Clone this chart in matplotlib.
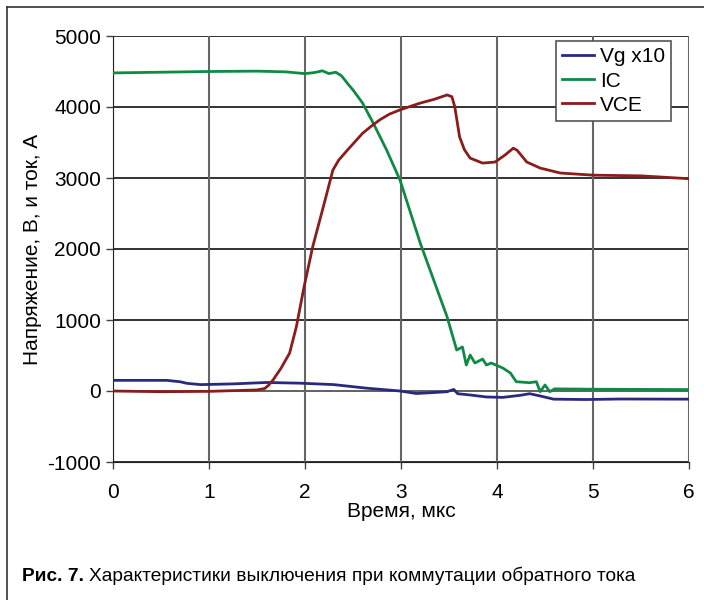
import matplotlib.pyplot as plt
from matplotlib.lines import Line2D

# --- data ---
vg_t = [0, 0.56, 0.7, 0.77, 0.91, 1.25, 1.6, 1.95, 2.3, 2.64, 2.99, 3.16, 3.3, 3.48,
        3.55, 3.59, 3.72, 3.89, 4.06, 4.24, 4.34, 4.45, 4.59, 4.93, 5.28, 6.0]
vg_v = [150, 150, 130, 108, 90, 100, 120, 110, 90, 40, 0, -35, -25, -10,
        22, -38, -56, -84, -90, -61, -38, -70, -115, -120, -113, -115]

ic_t = [0, 0.5, 1.0, 1.5, 1.8, 2.0, 2.1, 2.18, 2.25, 2.32, 2.38, 2.45, 2.5, 2.6,
        2.71, 2.85, 2.99, 3.2, 3.48, 3.58, 3.64, 3.68, 3.72, 3.77, 3.85, 3.89,
        3.94, 4.06, 4.14, 4.2, 4.34, 4.41, 4.45, 4.5, 4.55, 4.6, 5.0, 6.0]
ic_v = [4480, 4490, 4500, 4505, 4495, 4470, 4485, 4510, 4470, 4490, 4440, 4320, 4240, 4055,
        3775, 3395, 2970, 2085, 1045, 577, 620, 366, 507, 394, 450, 366,
        394, 324, 253, 131, 117, 131, -10, 85, -10, 30, 25, 20]

vce_t = [0, 0.5, 1.0, 1.5, 1.58, 1.62, 1.667, 1.75, 1.84, 1.91, 1.99, 2.08, 2.19, 2.25,
         2.29, 2.35, 2.44, 2.52, 2.6, 2.7, 2.78, 2.88, 2.99, 3.1, 3.2, 3.35, 3.48,
         3.53, 3.56, 3.61, 3.66, 3.72, 3.85, 3.98, 4.08, 4.17, 4.21, 4.31, 4.45,
         4.66, 5.0, 5.5, 6.0]
vce_v = [0, -10, -5, 15, 35, 80, 155, 320, 535, 905, 1465, 2030, 2590, 2900,
         3110, 3250, 3390, 3510, 3630, 3740, 3820, 3900, 3960, 4010, 4055, 4110, 4170,
         4145, 4005, 3580, 3400, 3280, 3210, 3225, 3320, 3420, 3390, 3225, 3140,
         3070, 3040, 3030, 2990]

x_ticks = [0, 1, 2, 3, 4, 5, 6]
y_ticks = [-1000, 0, 1000, 2000, 3000, 4000, 5000]

plt.rcParams['font.family'] = ['Liberation Sans', 'DejaVu Sans']
plt.rcParams['axes.unicode_minus'] = False

fig = plt.figure(figsize=(7.04, 6.0), dpi=100)
ax = fig.add_axes([113 / 704, 1 - 462 / 600, 576 / 704, 426 / 600])

for y in y_ticks:
    ax.axhline(y, color='#555555' if y == 0 else '#222222', lw=1.3, zorder=1)
for x in x_ticks:
    ax.axvline(x, color='#666666', lw=1.5, zorder=1)

ax.plot(vg_t, vg_v, color='#2a2a7c', lw=2.0, label='Vg x10', zorder=3)
ax.plot(ic_t, ic_v, color='#0f8a44', lw=2.0, label='IC', zorder=3)
ax.plot(vce_t, vce_v, color='#8b1c1c', lw=2.0, label='VCE', zorder=3)

ax.set_xlim(0, 6)
ax.set_ylim(-1000, 5000)
ax.set_xticks(x_ticks)
ax.set_yticks(y_ticks)
ax.tick_params(labelsize=15, length=5, width=1, color='#444444', direction='out')
ax.tick_params(axis='x', pad=10)
for s in ['top', 'right']:
    ax.spines[s].set_visible(False)
ax.spines['left'].set_color('#222222')
ax.spines['bottom'].set_color('#222222')

ax.set_xlabel('Время, мкс', fontsize=15, labelpad=0)
ax.set_ylabel('Напряжение, В, и ток, А', fontsize=15)
ax.yaxis.set_label_coords(-0.123, 0.5)

leg = ax.legend(loc='upper right', bbox_to_anchor=(0.969, 0.988), fontsize=15,
                fancybox=False, framealpha=1, edgecolor='#555555',
                handlelength=1.5, handletextpad=0.3, borderpad=0.3,
                labelspacing=0.25, borderaxespad=0)
leg.get_frame().set_linewidth(1.2)

# page frame
fig.add_artist(Line2D([7 / 704, 7 / 704], [0, 1 - 7 / 600], color='#333333', lw=1.2))
fig.add_artist(Line2D([7 / 704, 1], [1 - 7 / 600, 1 - 7 / 600], color='#333333', lw=1.2))

cap_font = ['Liberation Sans Narrow', 'Liberation Sans', 'DejaVu Sans']
t1 = fig.text(22 / 704, 1 - 581 / 600, 'Рис. 7.', fontsize=13.8, fontweight='bold',
              family=cap_font, va='baseline')
fig.canvas.draw()
bb = t1.get_window_extent()
fig.text((bb.x1 + 5) / 704, 1 - 581 / 600, 'Характеристики выключения при коммутации обратного тока',
         fontsize=13.8, family=cap_font, va='baseline')

fig.savefig('out.png', dpi=100)
